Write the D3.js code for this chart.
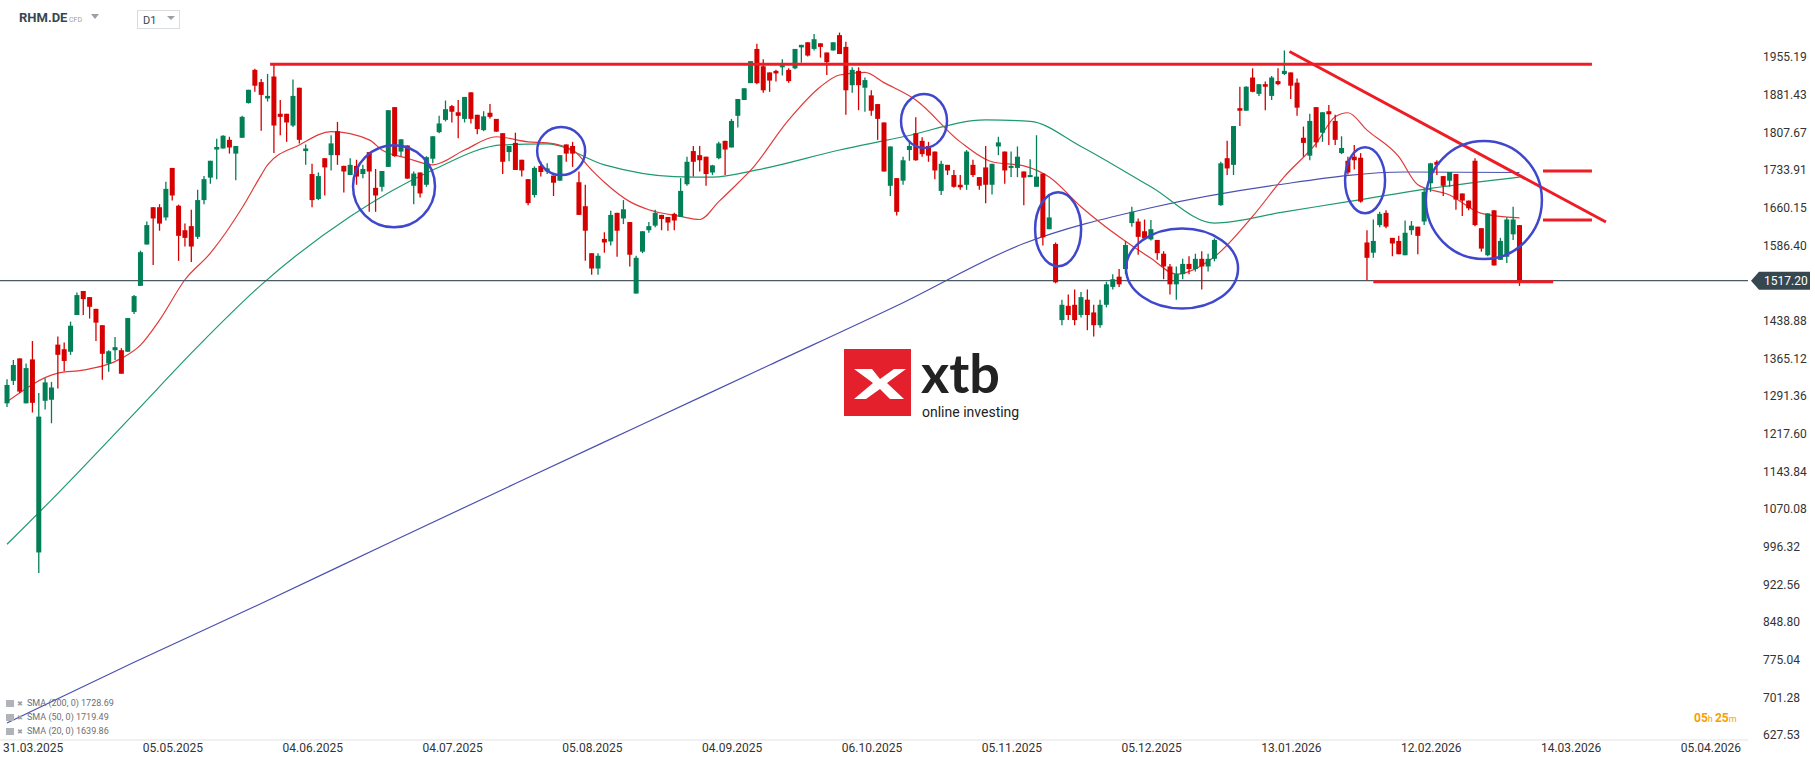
<!DOCTYPE html>
<html>
<head>
<meta charset="utf-8">
<script src="https://cdn.jsdelivr.net/npm/d3@7"></script>
<style>
  body { margin: 0; background: #fff; font-family: Roboto, "Noto Sans", sans-serif; }
  svg { display: block; }
</style>
</head>
<body>
<div id="chart"></div>
<script>
// OHLC per trading day: [open, high, low, close]
var candles = [
  [1277,1324,1270,1313],[1321,1362,1313,1352],[1365,1365,1297,1300],[1277,1355,1277,1346],[1363,1399,1259,1278],
  [985,1297,945,1251],[1282,1326,1265,1318],[1284,1319,1238,1308],[1392,1408,1306,1372],[1383,1396,1340,1360],
  [1378,1437,1372,1429],[1450,1494,1450,1489],[1497,1497,1450,1481],[1485,1485,1443,1466],[1462,1462,1399,1435],
  [1430,1430,1323,1374],[1355,1381,1339,1379],[1381,1407,1362,1387],[1381,1385,1335,1335],[1378,1444,1378,1444],
  [1456,1489,1452,1487],[1507,1576,1507,1573],[1588,1633,1588,1626],[1661,1661,1548,1639],[1661,1667,1615,1629],
  [1641,1711,1635,1697],[1738,1738,1674,1684],[1664,1666,1556,1605],[1616,1629,1584,1601],[1624,1656,1554,1584],
  [1603,1695,1599,1675],[1675,1722,1667,1716],[1719,1752,1707,1752],[1774,1795,1716,1779],[1776,1802,1776,1801],
  [1793,1799,1766,1778],[1766,1781,1714,1781],[1797,1840,1797,1838],[1865,1891,1864,1891],[1930,1932,1887,1899],
  [1906,1912,1811,1881],[1874,1922,1868,1879],[1917,1940,1767,1821],[1844,1871,1802,1838],[1844,1844,1789,1827],
  [1821,1911,1818,1879],[1895,1895,1786,1793],[1771,1784,1744,1776],[1726,1746,1661,1675],[1677,1729,1675,1722],
  [1757,1757,1684,1739],[1763,1802,1733,1786],[1810,1828,1744,1763],[1742,1742,1690,1731],[1724,1757,1724,1744],
  [1742,1754,1705,1721],[1726,1744,1718,1736],[1769,1769,1652,1731],[1699,1736,1652,1684],[1701,1732,1692,1732],
  [1740,1851,1740,1851],[1857,1857,1760,1761],[1770,1794,1761,1794],[1782,1782,1717,1717],[1703,1731,1667,1727],
  [1729,1729,1680,1688],[1705,1761,1701,1759],[1756,1800,1747,1800],[1808,1840,1806,1825],[1832,1870,1829,1853],
  [1859,1861,1827,1848],[1847,1871,1796,1840],[1834,1877,1827,1877],[1886,1886,1825,1834],[1842,1842,1804,1814],
  [1812,1849,1810,1839],[1846,1863,1835,1838],[1834,1834,1809,1809],[1806,1806,1726,1750],[1769,1781,1751,1781],
  [1787,1807,1734,1734],[1754,1754,1721,1733],[1716,1716,1665,1669],[1685,1741,1680,1738],[1742,1750,1721,1730],
  [1731,1747,1726,1737],[1723,1723,1683,1709],[1713,1763,1713,1763],[1784,1784,1750,1766],[1781,1789,1740,1766],
  [1710,1731,1646,1646],[1663,1705,1556,1615],[1571,1571,1529,1541],[1541,1571,1529,1566],[1599,1612,1572,1592],
  [1594,1654,1586,1646],[1650,1650,1564,1615],[1639,1675,1628,1657],[1632,1632,1545,1568],[1492,1566,1492,1562],
  [1574,1614,1571,1614],[1616,1632,1611,1624],[1625,1656,1622,1650],[1646,1646,1616,1638],[1642,1642,1615,1631],
  [1648,1650,1616,1635],[1642,1718,1642,1693],[1706,1760,1703,1750],[1771,1781,1721,1750],[1763,1781,1731,1753],
  [1760,1760,1703,1726],[1729,1744,1724,1743],[1757,1789,1755,1786],[1791,1791,1724,1774],[1778,1834,1778,1830],
  [1840,1873,1817,1873],[1871,1894,1871,1894],[1904,1947,1904,1947],[1971,1981,1902,1904],[1937,1951,1885,1890],
  [1925,1925,1887,1909],[1928,1930,1907,1923],[1935,1951,1919,1939],[1930,1933,1905,1908],[1933,1971,1931,1971],
  [1974,1979,1944,1979],[1984,1984,1956,1958],[1971,2000,1968,1990],[1982,1982,1954,1975],[1964,1964,1920,1945],
  [1968,1984,1968,1984],[1998,2003,1961,1961],[1975,1985,1842,1890],[1900,1935,1885,1930],[1928,1935,1851,1900],
  [1895,1915,1848,1910],[1880,1890,1840,1850],[1863,1863,1793,1834],[1827,1827,1731,1731],[1703,1780,1683,1780],
  [1718,1718,1645,1652],[1713,1760,1705,1753],[1773,1789,1752,1781],[1806,1837,1752,1753],[1791,1798,1760,1765],
  [1781,1789,1750,1762],[1770,1770,1716,1733],[1693,1752,1685,1746],[1744,1744,1724,1733],[1724,1734,1699,1701],
  [1705,1724,1695,1700],[1705,1773,1695,1770],[1744,1754,1720,1724],[1720,1720,1695,1703],[1739,1781,1669,1705],
  [1705,1746,1686,1746],[1780,1799,1763,1788],[1770,1770,1707,1733],[1738,1770,1720,1742],[1738,1780,1720,1760],
  [1731,1731,1665,1719],[1720,1755,1720,1724],[1701,1802,1701,1721],[1727,1727,1586,1602],[1618,1687,1618,1641],
  [1589,1592,1512,1514],[1440,1480,1430,1470],[1468,1490,1440,1450],[1470,1500,1430,1440],[1450,1495,1445,1485],
  [1480,1500,1420,1450],[1455,1470,1408,1430],[1430,1480,1425,1470],[1470,1515,1465,1510],[1505,1530,1500,1520],
  [1525,1540,1505,1510],[1540,1595,1530,1587],[1630,1662,1623,1652],[1633,1639,1568,1603],[1614,1637,1597,1600],
  [1598,1636,1596,1618],[1597,1597,1558,1571],[1570,1575,1520,1545],[1545,1550,1490,1510],[1510,1545,1480,1530],
  [1530,1560,1520,1550],[1550,1565,1530,1540],[1540,1570,1535,1560],[1560,1575,1500,1545],[1545,1570,1535,1560],
  [1560,1600,1555,1597],[1665,1750,1664,1747],[1757,1791,1724,1737],[1744,1820,1724,1820],[1855,1897,1820,1850],
  [1850,1898,1850,1897],[1915,1933,1886,1887],[1883,1902,1879,1902],[1902,1907,1851,1897],[1879,1918,1871,1915],
  [1908,1933,1900,1902],[1922,1968,1920,1928],[1925,1925,1873,1899],[1905,1913,1840,1856],[1797,1819,1760,1787],
  [1762,1844,1753,1830],[1857,1857,1778,1788],[1807,1847,1789,1847],[1849,1861,1783,1843],[1830,1842,1783,1793],
  [1767,1800,1765,1777],[1752,1760,1725,1729],[1760,1783,1735,1753],[1758,1767,1670,1672],[1592,1616,1518,1562],
  [1572,1637,1562,1595],[1626,1652,1622,1648],[1650,1655,1620,1623],[1601,1601,1565,1590],[1595,1605,1569,1569],
  [1567,1635,1567,1611],[1616,1634,1607,1625],[1623,1623,1569,1605],[1633,1698,1626,1691],[1708,1748,1691,1747],
  [1750,1753,1724,1744],[1722,1722,1683,1703],[1713,1730,1701,1730],[1726,1726,1656,1676],[1688,1688,1644,1674],
  [1674,1674,1655,1659],[1752,1757,1624,1626],[1620,1620,1574,1580],[1567,1649,1565,1649],[1655,1655,1547,1547],
  [1558,1601,1558,1595],[1564,1641,1552,1637],[1608,1662,1597,1637],[1626,1626,1507,1517]
];

// moving averages: [bar index, value]
var sma20 = [[0,1280],[8,1336],[12,1342],[18,1365],[21,1391],[24,1440],[28,1519],[32,1571],[37,1660],[40,1724],
  [41,1744],[46,1783],[51,1809],[57,1793],[59,1773],[63,1757],[67,1744],[72,1773],[77,1799],[82,1789],[85,1787],
  [89,1773],[92,1734],[94,1710],[98,1672],[101,1656],[106,1643],[109,1637],[112,1672],[115,1708],[117,1733],
  [123,1832],[128,1897],[131,1920],[135,1925],[138,1905],[143,1871],[150,1789],[155,1750],[160,1742],[164,1720],
  [169,1662],[175,1603],[180,1561],[184,1530],[190,1564],[196,1643],[201,1721],[206,1786],[209,1838],[211,1846],
  [214,1812],[219,1760],[222,1705],[227,1685],[232,1649],[238,1640]];
var sma50 = [[0,1001],[7,1088],[20,1257],[30,1388],[40,1509],[54,1643],[67,1734],[78,1783],[85,1785],[94,1744],
  [105,1721],[111,1720],[118,1734],[131,1773],[141,1799],[154,1832],[161,1829],[169,1780],[180,1701],[190,1630],
  [201,1652],[211,1672],[224,1698],[238,1720]];
var sma200 = [[0,651],[20,770],[40,885],[60,1003],[80,1120],[100,1236],[120,1352],[140,1468],[160,1590],[180,1660],
  [200,1705],[220,1730],[238,1729]];

var priceTicks = [1955.19,1881.43,1807.67,1733.91,1660.15,1586.40,1438.88,1365.12,1291.36,1217.60,1143.84,
  1070.08,996.32,922.56,848.80,775.04,701.28,627.53];
var dateLabels = ["31.03.2025","05.05.2025","04.06.2025","04.07.2025","05.08.2025","04.09.2025","06.10.2025",
  "05.11.2025","05.12.2025","13.01.2026","12.02.2026","14.03.2026","05.04.2026"];
var lastPrice = 1517.20;
var legendItems = [["SMA (200, 0)", "1728.69", "#4a50b0"], ["SMA (50, 0)", "1719.49", "#1e9a6c"], ["SMA (20, 0)", "1639.86", "#e03a3a"]];

// hand drawn annotations: [bar index, price]
var trendLines = [
  [[41.4,1941],[249.4,1941]],
  [[201.8,1966],[251.6,1632]],
  [[241.7,1732],[249.4,1732]],
  [[241.7,1636],[249.4,1636]],
  [[215,1515],[243.3,1515]]
];
var circles = [[60.9,1702,41,41],[87.2,1771,24,24],[144.3,1830,23,27],[165.4,1618,23,37],[184.9,1541,56,40],
  [213.7,1714,20,33],[232.4,1675,58,59]];

var width = 1815, height = 761;
var x = d3.scaleLinear().domain([0, 264]).range([7, 7 + 6.355 * 264]);
var y = d3.scaleLinear().domain([627.53, 1955.19]).range([735, 57]);
var up = "#037f57", down = "#d60000";

var svg = d3.select("#chart").append("svg").attr("width", width).attr("height", height);

svg.append("defs").append("clipPath").attr("id", "plot")
  .append("rect").attr("x", 0).attr("y", 0).attr("width", 1748).attr("height", 740);

// axis frame
svg.append("line").attr("x1", 0).attr("x2", 1748).attr("y1", 740).attr("y2", 740).attr("stroke", "#e3e3e3");

// sma lines
var line = d3.line().x(d => x(d[0])).y(d => y(d[1])).curve(d3.curveMonotoneX);
var plot = svg.append("g").attr("clip-path", "url(#plot)");
plot.append("path").datum(sma200).attr("d", line).attr("fill", "none").attr("stroke", "#4a50b0").attr("stroke-width", 1.2);
plot.append("path").datum(sma50).attr("d", line).attr("fill", "none").attr("stroke", "#1e9a6c").attr("stroke-width", 1.2);
plot.append("path").datum(sma20).attr("d", line).attr("fill", "none").attr("stroke", "#e03a3a").attr("stroke-width", 1.2);

// current price line
plot.append("line").attr("x1", 0).attr("x2", 1748).attr("y1", y(lastPrice)).attr("y2", y(lastPrice))
  .attr("stroke", "#4a5a66").attr("stroke-width", 1.3);

// logo
var logo = svg.append("g").attr("transform", "translate(844,349)");
logo.append("rect").attr("width", 67).attr("height", 67).attr("fill", "#e3202b");
logo.append("path").attr("d", "M10,20 L28,20 L36,30 L50,20 L62,20 L43,34 L60,50 L46,50 L36,40 L22,50 L10,50 L29,34 Z")
  .attr("fill", "#fff");
svg.append("text").attr("x", 921).attr("y", 393).text("xtb")
  .attr("font-size", 54).attr("font-weight", 700).attr("fill", "#222").attr("font-family", "Lato, Roboto, sans-serif");
svg.append("text").attr("x", 922).attr("y", 417).text("online investing")
  .attr("font-size", 14).attr("fill", "#222");

// candles
var bars = plot.selectAll("g.candle").data(candles).enter().append("g").attr("class", "candle");
bars.append("line")
  .attr("x1", (d, i) => x(i)).attr("x2", (d, i) => x(i))
  .attr("y1", d => y(d[1])).attr("y2", d => y(d[2]))
  .attr("stroke", d => d[3] >= d[0] ? up : down).attr("stroke-width", 1.3);
bars.append("rect")
  .attr("x", (d, i) => x(i) - 2.5).attr("width", 5)
  .attr("y", d => y(Math.max(d[0], d[3])))
  .attr("height", d => Math.max(1.5, Math.abs(y(d[0]) - y(d[3]))))
  .attr("fill", d => d[3] >= d[0] ? up : down);

// annotations
svg.selectAll("line.trend").data(trendLines).enter().append("line").attr("class", "trend")
  .attr("x1", d => x(d[0][0])).attr("y1", d => y(d[0][1]))
  .attr("x2", d => x(d[1][0])).attr("y2", d => y(d[1][1]))
  .attr("stroke", "#ee1c25").attr("stroke-width", 3);
svg.selectAll("ellipse").data(circles).enter().append("ellipse")
  .attr("cx", d => x(d[0])).attr("cy", d => y(d[1])).attr("rx", d => d[2]).attr("ry", d => d[3])
  .attr("fill", "none").attr("stroke", "#3f47cc").attr("stroke-width", 2.5);

// price axis
var yAxis = d3.axisRight(y).tickValues(priceTicks).tickSize(0).tickFormat(d3.format(".2f"));
var ya = svg.append("g").attr("transform", "translate(1760,0)").call(yAxis);
ya.select(".domain").remove();
ya.selectAll("text").attr("font-size", 12).attr("fill", "#333").attr("font-family", "Roboto, sans-serif");

// last price tag
var tag = svg.append("g").attr("transform", "translate(0," + y(lastPrice) + ")");
tag.append("path").attr("d", "M1751,0 L1759,-9 L1810,-9 L1810,9 L1759,9 Z").attr("fill", "#37474f");
tag.append("text").attr("x", 1764).attr("y", 4.5).text(lastPrice.toFixed(2))
  .attr("fill", "#fff").attr("font-size", 12);

// date axis
svg.selectAll("text.date").data(dateLabels).enter().append("text").attr("class", "date")
  .attr("x", (d, i) => x(i * 22) - 4).attr("y", 752).text(d => d)
  .attr("font-size", 12).attr("fill", "#333");

// header
svg.append("text").attr("x", 19).attr("y", 22).text("RHM.DE").attr("font-size", 13).attr("font-weight", 700).attr("fill", "#37474f");
svg.append("text").attr("x", 69).attr("y", 22).text("CFD").attr("font-size", 7).attr("fill", "#9aa0a6");
svg.append("path").attr("d", "M91,14 L99,14 L95,19 Z").attr("fill", "#9aa0a6");
svg.append("rect").attr("x", 137.5).attr("y", 10.5).attr("width", 42).attr("height", 18).attr("fill", "#fff").attr("stroke", "#dadce0");
svg.append("text").attr("x", 143).attr("y", 24).text("D1").attr("font-size", 11).attr("fill", "#37474f");
svg.append("path").attr("d", "M167,16 L175,16 L171,20 Z").attr("fill", "#9aa0a6");

// legend
var lg = svg.selectAll("g.leg").data(legendItems).enter().append("g").attr("class", "leg")
  .attr("transform", (d, i) => "translate(6," + (706 + i * 14) + ")");
lg.append("rect").attr("x", 0).attr("y", -6).attr("width", 8).attr("height", 7).attr("fill", "#b0b4b8");
lg.append("text").attr("x", 11).attr("y", 0).text("✖").attr("font-size", 7).attr("fill", "#9aa0a6");
lg.append("text").attr("x", 21).attr("y", 0).text(d => d[0] + " " + d[1]).attr("font-size", 9).attr("fill", "#6b7075");

// countdown
var cd = svg.append("text").attr("x", 1694).attr("y", 722).attr("font-size", 12).attr("fill", "#f5a000");
cd.append("tspan").text("05").attr("font-weight", 700);
cd.append("tspan").text("h ").attr("font-size", 9);
cd.append("tspan").text("25").attr("font-weight", 700);
cd.append("tspan").text("m").attr("font-size", 9);
</script>
</body>
</html>
